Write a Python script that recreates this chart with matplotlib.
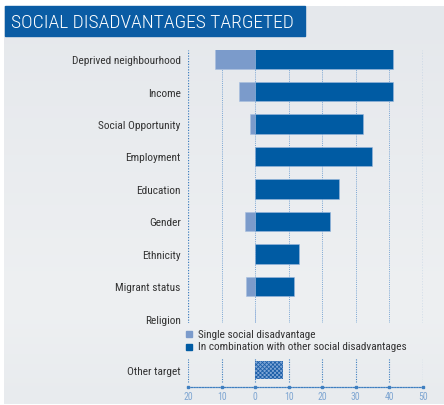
import numpy as np
import matplotlib
matplotlib.use('Agg')
import matplotlib.pyplot as plt
import matplotlib.patches as mpatches

# data
categories = ['Deprived neighbourhood', 'Income', 'Social Opportunity', 'Employment',
              'Education', 'Gender', 'Ethnicity', 'Migrant status', 'Religion']
single = [-12, -5, -1.7, 0, 0, -3, 0, -2.9, 0]
combined = [41, 41, 32.1, 35, 24.9, 22.4, 13.2, 11.5, 0]
other_target = [8.3]
ticks = [-20, -10, 0, 10, 20, 30, 40, 50]
tick_labels = ['20', '10', '0', '10', '20', '30', '40', '50']

title = 'SOCIAL DISADVANTAGES TARGETED'
legend_labels = ['Single social disadvantage', 'In combination with other social disadvantages']

FONT = ['Roboto Condensed', 'DejaVu Sans']
plt.rcParams['font.family'] = FONT

dark_blue = '#005ba3'
light_blue = '#7b9bcb'
grid_blue = '#3f7fc0'
text_col = '#333333'

W, H = 444, 406
fig = plt.figure(figsize=(W / 100, H / 100), dpi=100)
fig.patch.set_facecolor('white')


def fx(px):
    return px / W


def fy(py):
    return 1 - py / H


# grey gradient panel
ax_bg = fig.add_axes([fx(4), fy(405), 440 / W, 398 / H], zorder=-5)
grad = np.linspace(0, 1, 200)
c_top = np.array([0xe5, 0xe8, 0xec]) / 255
c_mid = np.array([0xee, 0xf0, 0xf2]) / 255
c_bot = np.array([0xe8, 0xeb, 0xee]) / 255
cols = np.where(grad[:, None] < 0.75,
                c_top + (c_mid - c_top) * (grad[:, None] / 0.75),
                c_mid + (c_bot - c_mid) * ((grad[:, None] - 0.75) / 0.25))
ax_bg.imshow(cols[:, None, :], aspect='auto', extent=[0, 1, 0, 1])
ax_bg.axis('off')

# title box
fig.patches.append(mpatches.Rectangle((fx(5), fy(37)), 300 / W, 30 / H,
                                      transform=fig.transFigure, color='#0a5ca4', zorder=1))
fig.text(fx(11), fy(22.5), title, color='white', fontsize=14, va='center', ha='left',
         fontweight='light', zorder=2)

# main chart
ax = fig.add_axes([fx(188.3), fy(323.7), (422.7 - 188.3) / W, (323.7 - 51) / H])
ax.set_facecolor('none')
y = np.arange(len(categories))
for t in ticks:
    if t in (-20, 50):
        ax.axvline(t, color=grid_blue, lw=0.9, ls=(0, (1, 1.2)), zorder=1)
    else:
        ax.axvline(t, color='#5d93cc', lw=0.7, ls=(0, (1, 1.2)), zorder=1, alpha=0.8)
ax.barh(y, single, height=0.6, color=light_blue, edgecolor='#a8bfe0', lw=0.4, zorder=2)
ax.barh(y, combined, height=0.6, color=dark_blue, edgecolor='#9ab7dd', lw=0.4, zorder=3)
ax.set_xlim(-20, 50)
ax.set_ylim(8.12, -0.28)
ax.set_xticks([])
ax.set_yticks(y, categories)
ax.tick_params(axis='y', length=0, pad=5.5, labelsize=8.2, labelcolor=text_col)
for s in ax.spines.values():
    s.set_visible(False)

# legend, drawn by hand
for i, (lab, c) in enumerate(zip(legend_labels, [light_blue, dark_blue])):
    yy = 335 + i * 12.5
    fig.patches.append(mpatches.Rectangle((fx(186), fy(yy + 3)), 6 / W, 6 / H,
                                          transform=fig.transFigure, color=c))
    fig.text(fx(198), fy(yy), lab, fontsize=8.1, color=text_col, va='center', ha='left')

# other target panel
plt.rcParams['hatch.color'] = '#1d5fa8'
plt.rcParams['hatch.linewidth'] = 0.6
ax2 = fig.add_axes([fx(188.3), fy(388), (422.7 - 188.3) / W, 29 / H])
ax2.set_facecolor('none')
for t in ticks:
    ax2.axvline(t, ymin=0.17, ymax=1, color=grid_blue, lw=0.8, ls=(0, (1, 1.2)), zorder=1)
ax2.barh([0], other_target, height=0.6, color='#7fa6d6', hatch='xxxxxxxx', lw=0, zorder=2)
ax2.set_xlim(-20, 50)
ax2.set_ylim(-0.567, 0.4)
ax2.plot(ticks, [-0.567] * len(ticks), 's', ms=1.6, color=grid_blue, clip_on=False, zorder=4)
ax2.set_xticks(ticks, tick_labels)
ax2.set_yticks([0], ['Other target'])
ax2.tick_params(axis='x', length=0, pad=3, labelsize=7, labelcolor='#7fa6d2')
ax2.tick_params(axis='y', length=0, pad=5.5, labelsize=8.2, labelcolor=text_col)
for k, s in ax2.spines.items():
    s.set_visible(k == 'bottom')
ax2.spines['bottom'].set_color(grid_blue)
ax2.spines['bottom'].set_linestyle((0, (1, 1.2)))
ax2.spines['bottom'].set_linewidth(0.9)

fig.savefig('out.png', dpi=100)
